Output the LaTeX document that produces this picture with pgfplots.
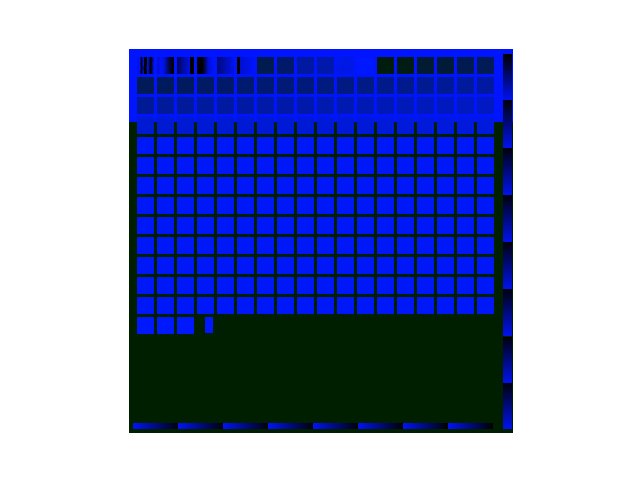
\documentclass[border=0pt]{standalone}
\usepackage{pgfplots}
\pgfplotsset{compat=1.18}
\usepgfplotslibrary{patchplots}
\definecolor{bggreen}{RGB}{0,31,0}
\definecolor{bandblue}{RGB}{0,20,255}
\definecolor{sqblue}{RGB}{0,24,255}
\begin{document}
\begin{tikzpicture}
\path (0pt,0pt) rectangle (640pt,480pt);
\begin{axis}[
  at={(129pt,47pt)}, anchor=south west,
  scale only axis, width=384pt, height=384pt,
  xmin=0, xmax=384, ymin=0, ymax=384, y dir=reverse,
  enlargelimits=false, axis lines=none, ticks=none,
  colormap={comb}{rgb255(0pt)=(0,28,0); rgb255(255pt)=(0,24,255); rgb255(256pt)=(0,0,0); rgb255(511pt)=(0,20,255)},
  point meta min=0, point meta max=511,
]
% background and top band
\addplot[fill=bggreen, draw=none] coordinates {(0,0) (384,0) (384,384) (0,384)} -- cycle;
\addplot[fill=bandblue, draw=none] coordinates {(0,0) (384,0) (384,73) (0,73)} -- cycle;
% uniform squares
\addplot[scatter, only marks, mark=square*, mark size=8pt, point meta=explicit,
  scatter/use mapped color={draw=mapped color, fill=mapped color},
  mark options={line width=0.1pt}] table[meta=c] {
x y c
136 16 80
156 16 105
176 16 160
196 16 170
216 16 230
236 16 255
256 16 15
276 16 20
296 16 50
316 16 55
336 16 80
356 16 85
16 36 88
36 36 92
56 36 96
76 36 100
96 36 105
116 36 109
136 36 113
156 36 117
176 36 121
196 36 125
216 36 130
236 36 134
256 36 138
276 36 142
296 36 146
316 36 150
336 36 155
356 36 160
16 56 150
36 56 153
56 56 155
76 56 158
96 56 161
116 56 163
136 56 166
156 56 169
176 56 171
196 56 174
216 56 177
236 56 179
256 56 182
276 56 185
296 56 187
316 56 190
336 56 193
356 56 195
16 76 210
36 76 211
56 76 211
76 76 212
96 76 213
116 76 213
136 76 214
156 76 215
176 76 215
196 76 216
216 76 217
236 76 217
256 76 218
276 76 219
296 76 219
316 76 220
336 76 221
356 76 222
16 96 248
36 96 248
56 96 248
76 96 248
96 96 248
116 96 248
136 96 248
156 96 248
176 96 248
196 96 248
216 96 248
236 96 248
256 96 248
276 96 248
296 96 248
316 96 248
336 96 248
356 96 248
16 116 248
36 116 248
56 116 248
76 116 248
96 116 248
116 116 248
136 116 248
156 116 248
176 116 248
196 116 248
216 116 248
236 116 248
256 116 248
276 116 248
296 116 248
316 116 248
336 116 248
356 116 248
16 136 248
36 136 248
56 136 248
76 136 248
96 136 248
116 136 248
136 136 248
156 136 248
176 136 248
196 136 248
216 136 248
236 136 248
256 136 248
276 136 248
296 136 248
316 136 248
336 136 248
356 136 248
16 156 248
36 156 248
56 156 248
76 156 248
96 156 248
116 156 248
136 156 248
156 156 248
176 156 248
196 156 248
216 156 248
236 156 248
256 156 248
276 156 248
296 156 248
316 156 248
336 156 248
356 156 248
16 176 248
36 176 248
56 176 248
76 176 248
96 176 248
116 176 248
136 176 248
156 176 248
176 176 248
196 176 248
216 176 248
236 176 248
256 176 248
276 176 248
296 176 248
316 176 248
336 176 248
356 176 248
16 196 248
36 196 248
56 196 248
76 196 248
96 196 248
116 196 248
136 196 248
156 196 248
176 196 248
196 196 248
216 196 248
236 196 248
256 196 248
276 196 248
296 196 248
316 196 248
336 196 248
356 196 248
16 216 248
36 216 248
56 216 248
76 216 248
96 216 248
116 216 248
136 216 248
156 216 248
176 216 248
196 216 248
216 216 248
236 216 248
256 216 248
276 216 248
296 216 248
316 216 248
336 216 248
356 216 248
16 236 248
36 236 248
56 236 248
76 236 248
96 236 248
116 236 248
136 236 248
156 236 248
176 236 248
196 236 248
216 236 248
236 236 248
256 236 248
276 236 248
296 236 248
316 236 248
336 236 248
356 236 248
16 256 248
36 256 248
56 256 248
76 256 248
96 256 248
116 256 248
136 256 248
156 256 248
176 256 248
196 256 248
216 256 248
236 256 248
256 256 248
276 256 248
296 256 248
316 256 248
336 256 248
356 256 248
16 276 252
36 276 252
56 276 252
};
% half square in the last row
\addplot[fill=sqblue, draw=none] coordinates {(76,268) (84,268) (84,284) (76,284)} -- cycle;
% shaded pieces: first row, right strip, bottom strip
\addplot[patch, patch type=rectangle, shader=interp, point meta=explicit] table[meta=c] {
x y c
8 8 480
10 8 505
10 24 505
8 24 480
10 8 505
12 8 270
12 24 270
10 24 505
12 8 270
14 8 470
14 24 470
12 24 270
14 8 470
15 8 260
15 24 260
14 24 470
15 8 260
17 8 256
17 24 256
15 24 260
17 8 256
18 8 480
18 24 480
17 24 256
18 8 480
20 8 350
20 24 350
18 24 480
20 8 350
21 8 256
21 24 256
20 24 350
21 8 256
22 8 300
22 24 300
21 24 256
22 8 300
24 8 470
24 24 470
22 24 300
28 8 460
31 8 505
31 24 505
28 24 460
31 8 505
34 8 490
34 24 490
31 24 505
34 8 490
40 8 320
40 24 320
34 24 490
40 8 320
44 8 256
44 24 256
40 24 320
48 8 350
61 8 490
61 24 490
48 24 350
61 8 256
64 8 256
64 24 256
61 24 256
68 8 256
74 8 256
74 24 256
68 24 256
74 8 300
79 8 470
79 24 470
74 24 300
79 8 470
84 8 505
84 24 505
79 24 470
88 8 380
104 8 490
104 24 490
88 24 380
108 8 256
111 8 256
111 24 256
108 24 256
111 8 460
124 8 505
124 24 505
111 24 460
228 8 256
229.5 8 256
229.5 24 256
228 24 256
374 5 256
382 5 256
382 50 490
374 50 490
374 51 270
382 51 270
382 98 490
374 98 490
374 99 270
382 99 270
382 145 490
374 145 490
374 146 270
382 146 270
382 192 490
374 192 490
374 193 270
382 193 270
382 239 490
374 239 490
374 240 270
382 240 270
382 286 490
374 286 490
374 288 270
382 288 270
382 333 490
374 333 490
374 334 270
382 334 270
382 379 490
374 379 490
4 374 500
48 374 275
48 379 275
4 379 500
49 374 500
93 374 272
93 379 272
49 379 500
94 374 500
138 374 270
138 379 270
94 379 500
139 374 500
183 374 268
183 379 268
139 379 500
184 374 500
228 374 265
228 379 265
184 379 500
229 374 500
273 374 262
273 379 262
229 379 500
274 374 500
318 374 260
318 379 260
274 379 500
319 374 500
363 374 258
363 379 258
319 379 500
};
\end{axis}
\end{tikzpicture}
\end{document}
